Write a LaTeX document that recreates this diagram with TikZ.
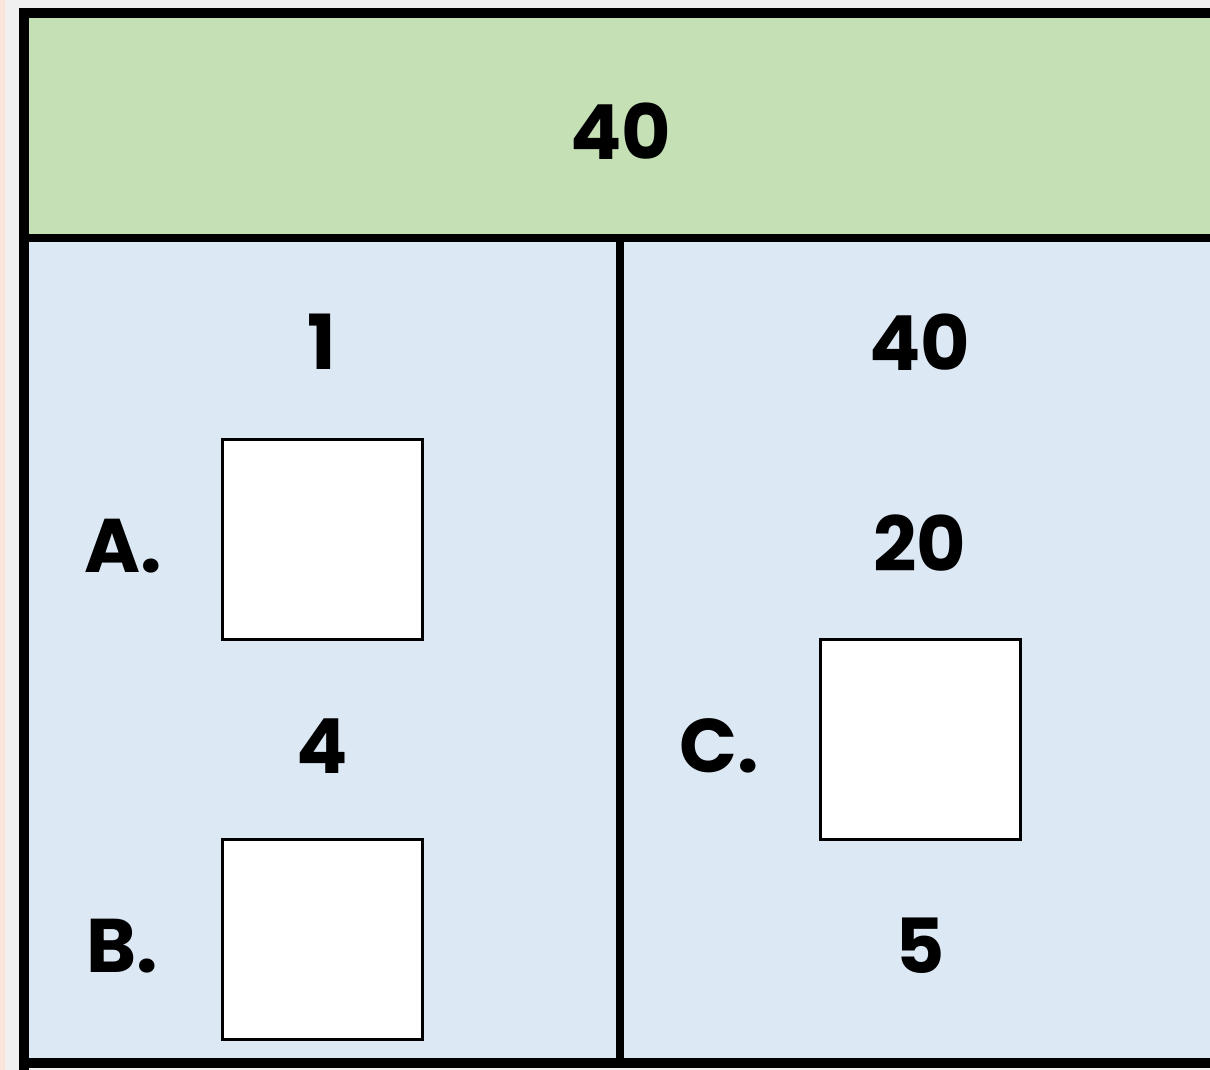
\documentclass[tikz,border=0pt]{standalone}
\usepackage{fontspec}
\setmainfont{Poppins}
\definecolor{hdrgreen}{HTML}{C5E0B4}
\definecolor{cellblue}{HTML}{DDE8F5}
\definecolor{margingray}{HTML}{F0F0F0}
\definecolor{marginpink}{HTML}{FBE5DA}
\begin{document}
\begin{tikzpicture}[x=1pt,y=-1pt,
  lbl/.style={font=\fontsize{76}{78}\selectfont\bfseries, inner sep=0pt},
  ansbox/.style={draw=black, line width=3pt, fill=white, minimum width=200pt, minimum height=200pt, inner sep=0pt},
  frame/.style={line width=10pt, draw=black}]
\useasboundingbox (0,0) rectangle (1210,1070);
\fill[margingray] (0,0) rectangle (1210,1070);
\fill[marginpink] (0,0) rectangle (5,1070);
% panels
\fill[hdrgreen] (24,13) rectangle (1215,238);
\fill[cellblue] (24,238) rectangle (1215,1062);
% frame lines
\draw[frame] (24,1070) -- (24,13) -- (1215,13);
\draw[frame] (19,1063) -- (1215,1063);
\draw[line width=8pt] (24,238) -- (1215,238);
\draw[line width=8pt] (620,238) -- (620,1062);
% texts
\node[lbl] (top) at (621,131) {40};
\node[lbl] (l1) at (322,342) {1};
\node[lbl] (la) at (123,546) {A.};
\node[ansbox] (ba) at (322.5,539.5) {};
\node[lbl] (l4) at (322,746) {4};
\node[lbl] (lb) at (122,946) {B.};
\node[ansbox] (bb) at (322.5,939.5) {};
\node[lbl] (r40) at (920,342) {40};
\node[lbl] (r20) at (920,543) {20};
\node[lbl] (lc) at (719,746) {C.};
\node[ansbox] (bc) at (920.5,739.5) {};
\node[lbl] (r5) at (920,946) {5};
\end{tikzpicture}
\end{document}
